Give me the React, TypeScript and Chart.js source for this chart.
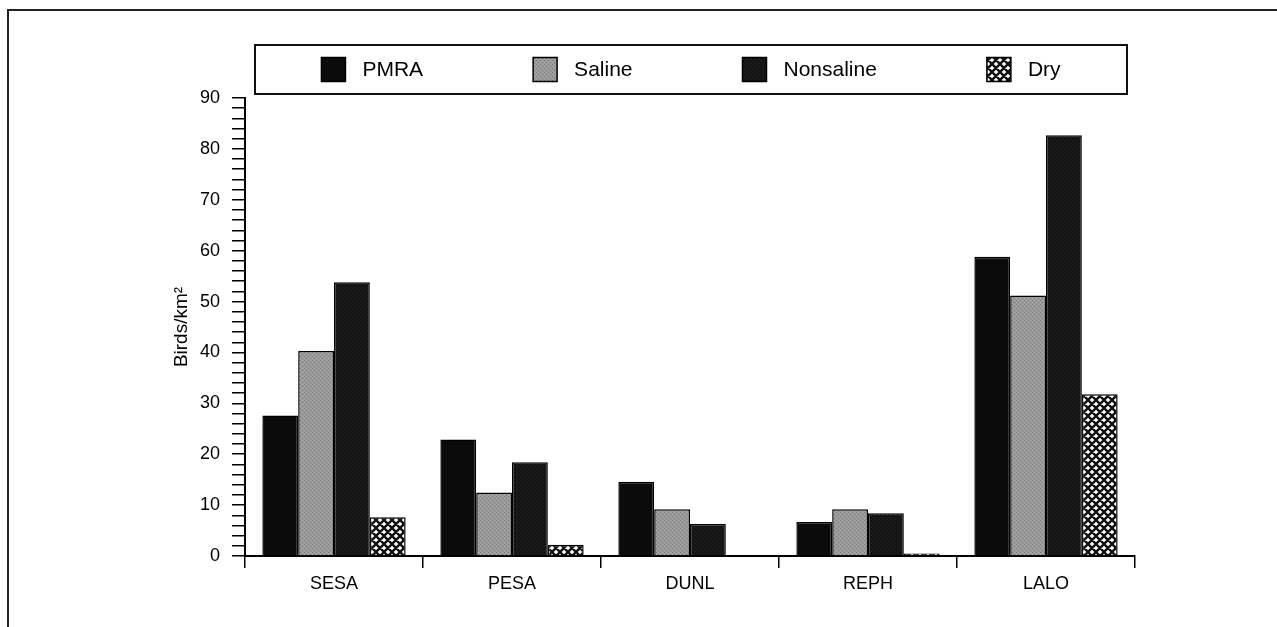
import React, { useEffect, useRef } from "react";
import { Chart, registerables } from "chart.js";

Chart.register(...registerables);

const categories = ["SESA", "PESA", "DUNL", "REPH", "LALO"];
const seriesNames = ["PMRA", "Saline", "Nonsaline", "Dry"];
const pmra = [27.6, 22.9, 14.6, 6.7, 58.8];
const saline = [40.3, 12.5, 9.2, 9.2, 51.2];
const nonsaline = [53.8, 18.4, 6.3, 8.4, 82.7];
const dry = [7.6, 2.2, 0, 0.5, 31.8];
const yMin = 0;
const yMax = 90;
const yStep = 2;
const yLabelEvery = 10;
const yTitle = "Birds/km²";

const FONT = "'Liberation Sans', Arial, Helvetica, sans-serif";

function makeStipple(): CanvasPattern | string {
  const c = document.createElement("canvas");
  c.width = 4;
  c.height = 4;
  const g = c.getContext("2d");
  if (!g) return "#999";
  g.fillStyle = "#9a9a9a";
  g.fillRect(0, 0, 4, 4);
  g.fillStyle = "#767676";
  g.fillRect(0, 0, 1, 1);
  g.fillRect(2, 2, 1, 1);
  g.fillStyle = "#b0b0b0";
  g.fillRect(2, 0, 1, 1);
  g.fillRect(0, 2, 1, 1);
  return g.createPattern(c, "repeat") || "#999";
}

function makeDark(): CanvasPattern | string {
  const c = document.createElement("canvas");
  c.width = 4;
  c.height = 4;
  const g = c.getContext("2d");
  if (!g) return "#1a1a1a";
  g.fillStyle = "#141414";
  g.fillRect(0, 0, 4, 4);
  g.fillStyle = "#292929";
  g.fillRect(1, 1, 1, 1);
  g.fillRect(3, 3, 1, 1);
  return g.createPattern(c, "repeat") || "#1a1a1a";
}

function makeCross(): CanvasPattern | string {
  const s = 8;
  const c = document.createElement("canvas");
  c.width = s;
  c.height = s;
  const g = c.getContext("2d");
  if (!g) return "#666";
  g.fillStyle = "#fff";
  g.fillRect(0, 0, s, s);
  g.strokeStyle = "#111";
  g.lineWidth = 2.4;
  g.beginPath();
  for (let k = -s; k <= 2 * s; k += s) {
    g.moveTo(k, 0);
    g.lineTo(k + s, s);
    g.moveTo(k + s, 0);
    g.lineTo(k, s);
  }
  g.stroke();
  return g.createPattern(c, "repeat") || "#666";
}

const framePlugin = {
  id: "frame",
  beforeDraw(chart: any) {
    const ctx = chart.ctx;
    ctx.save();
    ctx.fillStyle = "#fff";
    ctx.fillRect(0, 0, chart.width, chart.height);
    ctx.strokeStyle = "#222";
    ctx.lineWidth = 2;
    ctx.beginPath();
    ctx.moveTo(8, chart.height + 5);
    ctx.lineTo(8, 10);
    ctx.lineTo(chart.width + 5, 10);
    ctx.stroke();
    ctx.restore();
  },
};

const legendPlugin = {
  id: "boxLegend",
  afterDraw(chart: any) {
    const ctx = chart.ctx;
    const area = chart.chartArea;
    const boxL = area.left + 10;
    const boxR = area.right - 8;
    const boxT = 45;
    const boxB = 94;
    ctx.save();
    ctx.strokeStyle = "#111";
    ctx.lineWidth = 2;
    ctx.strokeRect(boxL, boxT, boxR - boxL, boxB - boxT);
    ctx.font = `21px ${FONT}`;
    const sw = 24;
    const sh = 24;
    const gapText = 17;
    const gapItem = 110;
    const items = chart.data.datasets.map((d: any) => ({
      label: d.label,
      fill: d.backgroundColor,
      w: ctx.measureText(d.label).width,
    }));
    let total = 0;
    items.forEach((it: any, i: number) => {
      total += sw + gapText + it.w + (i < items.length - 1 ? gapItem : 0);
    });
    let x = (boxL + boxR) / 2 - total / 2;
    const cy = (boxT + boxB) / 2;
    items.forEach((it: any) => {
      ctx.fillStyle = it.fill;
      ctx.fillRect(x, cy - sh / 2, sw, sh);
      ctx.lineWidth = 1.5;
      ctx.strokeStyle = "#000";
      ctx.strokeRect(x, cy - sh / 2, sw, sh);
      ctx.fillStyle = "#000";
      ctx.textBaseline = "middle";
      ctx.textAlign = "left";
      ctx.fillText(it.label, x + sw + gapText, cy + 1);
      x += sw + gapText + it.w + gapItem;
    });
    ctx.restore();
  },
};

export default function App() {
  const ref = useRef<HTMLCanvasElement | null>(null);

  useEffect(() => {
    if (!ref.current) return;
    const fills = ["#0b0b0b", makeStipple(), makeDark(), makeCross()];
    const values = [pmra, saline, nonsaline, dry];
    const chart = new Chart(ref.current, {
      type: "bar",
      data: {
        labels: categories,
        datasets: seriesNames.map((name, i) => ({
          label: name,
          data: values[i],
          backgroundColor: fills[i] as any,
          borderColor: "#000",
          borderWidth: 1.5,
          categoryPercentage: 0.805,
          barPercentage: 1,
        })),
      },
      options: {
        responsive: false,
        animation: false,
        layout: { padding: { top: 98, left: 166, right: 142, bottom: 31 } },
        plugins: {
          legend: { display: false },
          tooltip: { enabled: false },
        },
        scales: {
          x: {
            border: { color: "#000", width: 2 },
            grid: {
              display: true,
              drawOnChartArea: false,
              drawTicks: true,
              tickLength: 12,
              color: "#000",
              lineWidth: 1.5,
              offset: true,
            },
            ticks: {
              color: "#000",
              padding: 5,
              font: { family: FONT, size: 18 },
            },
            afterFit(scale: any) {
              scale.height = 40;
            },
          },
          y: {
            min: yMin,
            max: yMax,
            border: { color: "#000", width: 2 },
            grid: {
              display: true,
              drawOnChartArea: false,
              drawTicks: true,
              tickLength: 13,
              color: "#000",
              lineWidth: 1.5,
            },
            ticks: {
              stepSize: yStep,
              autoSkip: false,
              color: "#000",
              padding: 12,
              font: { family: FONT, size: 18 },
              callback: (v: any) => (Number(v) % yLabelEvery === 0 ? String(v) : ""),
            },
            title: {
              display: true,
              text: yTitle,
              color: "#000",
              font: { family: FONT, size: 19 },
              padding: { top: 4, bottom: 4 },
            },
            afterFit(scale: any) {
              scale.width = 79;
            },
          },
        },
      },
      plugins: [framePlugin, legendPlugin],
    });
    return () => chart.destroy();
  }, []);

  return (
    <div style={{ position: "absolute", left: 0, top: 0, width: 1277, height: 627 }}>
      <canvas ref={ref} width={1277} height={627} style={{ display: "block" }} />
    </div>
  );
}
